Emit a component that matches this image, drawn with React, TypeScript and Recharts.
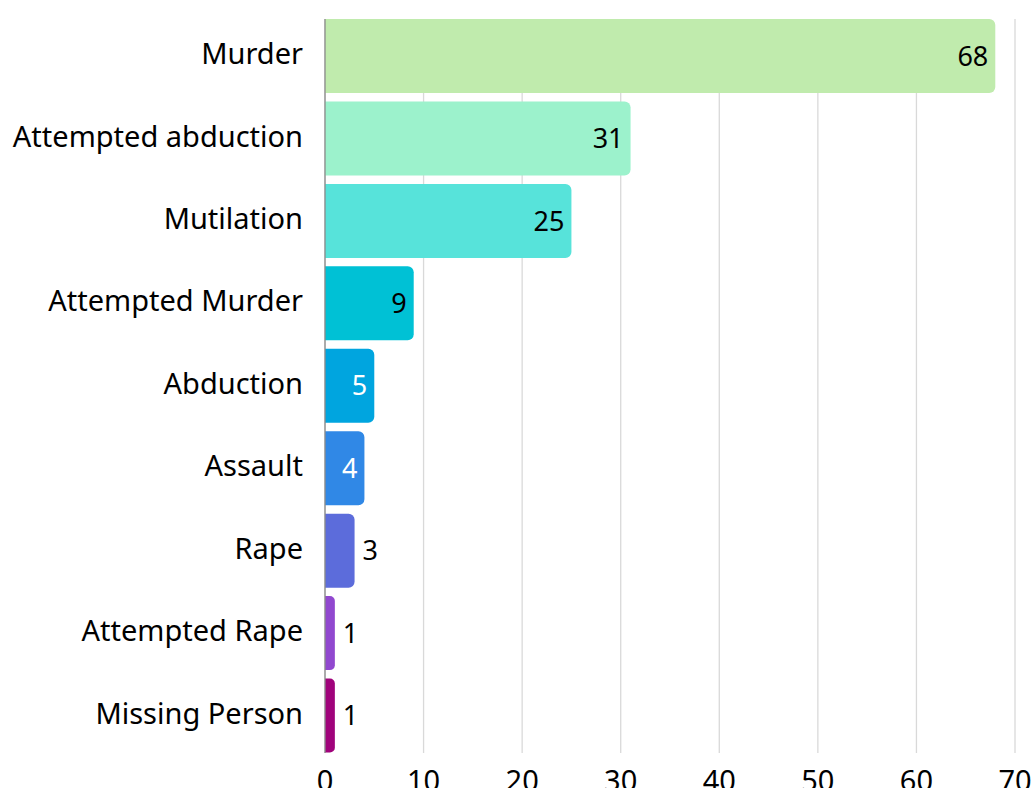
import React from "react";
import { BarChart, Bar, XAxis, YAxis, CartesianGrid, Cell, LabelList } from "recharts";

const categories = [
  "Murder",
  "Attempted abduction",
  "Mutilation",
  "Attempted Murder ",
  "Abduction",
  "Assault",
  "Rape",
  "Attempted Rape",
  "Missing Person",
];
const counts = [68, 31, 25, 9, 5, 4, 3, 1, 1];
const xTicks = [0, 10, 20, 30, 40, 50, 60, 70];

const COLORS = [
  "#c0ebad",
  "#9cf2cc",
  "#57e3da",
  "#00c1d5",
  "#00a5df",
  "#3088e6",
  "#5c6cdb",
  "#9148cf",
  "#a0037b",
];
const INSIDE_LABEL_COLORS = ["#000", "#000", "#000", "#000", "#fff", "#fff", "#000", "#000", "#000"];

const data = categories.map((name, i) => ({ name, value: counts[i] }));

const FONT = "'Noto Sans', 'Open Sans', sans-serif";

const renderLabel = (props: any) => {
  const { x, y, width, height, value, index } = props;
  const cy = y + height / 2;
  const inside = width > 35;
  const tx = inside ? x + width - 7 : x + width + 8;
  return (
    <text
      x={tx}
      y={cy}
      dy="0.36em"
      textAnchor={inside ? "end" : "start"}
      fill={inside ? INSIDE_LABEL_COLORS[index] : "#000"}
      fontSize={27}
      fontFamily={FONT}
    >
      {value}
    </text>
  );
};

const CategoryTick = (props: any) => {
  const { x, y, payload } = props;
  return (
    <text
      x={x}
      y={y - 2.5}
      dy="0.36em"
      textAnchor="end"
      fill="#000"
      fontSize={29}
      fontFamily={FONT}
    >
      {payload.value}
    </text>
  );
};

export default function App() {
  return (
    <div style={{ position: "absolute", left: 0, top: 0, width: 1032, height: 788, background: "#fff", overflow: "hidden" }}>
      <BarChart
        width={1032}
        height={788}
        data={data}
        layout="vertical"
        margin={{ top: 19, right: 17, left: 0, bottom: 0 }}
        barSize={74}
      >
        <CartesianGrid horizontal={false} vertical={true} stroke="#d9d9d9" strokeWidth={1.3} />
        <XAxis
          type="number"
          domain={[0, 70]}
          ticks={xTicks}
          axisLine={false}
          tickLine={false}
          tickSize={0}
          tickMargin={17}
          height={35}
          tick={{ fill: "#000", fontSize: 29, fontFamily: FONT }}
          interval={0}
        />
        <YAxis
          type="category"
          dataKey="name"
          width={325}
          axisLine={{ stroke: "#8c8c8c", strokeWidth: 1.3 }}
          tickLine={false}
          tickSize={0}
          tickMargin={22}
          interval={0}
          padding={{ top: -4, bottom: -4 }}
          tick={<CategoryTick />}
        />
        <Bar dataKey="value" isAnimationActive={false} radius={[0, 6, 6, 0]}>
          {data.map((d, i) => (
            <Cell key={d.name} fill={COLORS[i]} />
          ))}
          <LabelList dataKey="value" content={renderLabel} />
        </Bar>
      </BarChart>
    </div>
  );
}
